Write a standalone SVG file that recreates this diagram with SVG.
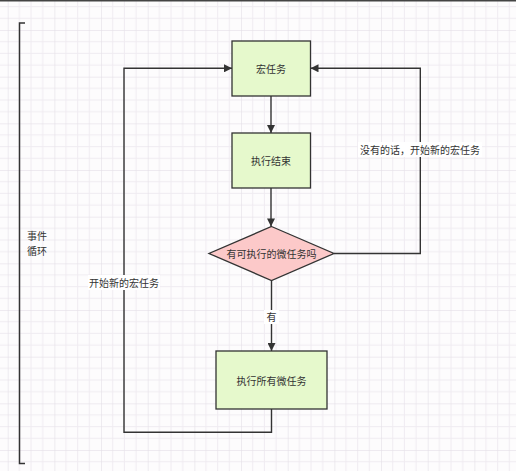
<svg xmlns="http://www.w3.org/2000/svg" width="516" height="471" viewBox="0 0 516 471">
<style>
.node{stroke:#333;stroke-width:1.3}
.box{fill:#e6f9cc}
.dia{fill:#fcc9c9}
.t{font-family:"Noto Sans CJK SC","Noto Sans",sans-serif;font-size:10px;fill:#333;text-anchor:middle;dominant-baseline:central}
.edge{fill:none;stroke:#333;stroke-width:1.4}
</style>
<defs>
<pattern id="grid" patternUnits="userSpaceOnUse" x="7.7" y="30" width="46.667" height="46.667">
<path d="M0 0V46.667M11.667 0V46.667M23.333 0V46.667M35 0V46.667M0 0H46.667M0 11.667H46.667M0 23.333H46.667M0 35H46.667" stroke="#efebf1" stroke-width="1" fill="none"/>
<path d="M0 0V46.667M0 0H46.667" stroke="#e3dfe6" stroke-width="1" fill="none"/>
</pattern>
<marker id="arr" viewBox="0 0 10 10" refX="10" refY="5" markerWidth="9" markerHeight="8" markerUnits="userSpaceOnUse" orient="auto">
<path d="M0 0L10 5L0 10z" fill="#333"/>
</marker>
</defs>
<rect width="516" height="471" fill="#fdfcfd"/>
<rect width="516" height="471" fill="url(#grid)"/>
<rect x="0" y="0" width="516" height="1.5" fill="#444"/>
<g id="bracket">
<path d="M25 23H19.5V463.5H25" fill="none" stroke="#333" stroke-width="1.5"/>
<text class="t" x="37" y="235.5">事件</text>
<text class="t" x="37" y="250.5">循环</text>
</g>
<g id="connectors">
<path class="edge" d="M271 96V133" marker-end="url(#arr)"/>
<path class="edge" d="M271 188V226.5" marker-end="url(#arr)"/>
<path class="edge" d="M271.5 280.5V351" marker-end="url(#arr)"/>
<path class="edge" d="M271.5 409V432.3H124V68.3H232" marker-end="url(#arr)"/>
<path class="edge" d="M334 253.5H420.3V68.3H310.5" marker-end="url(#arr)"/>
<rect x="264" y="310" width="15" height="14" fill="#fff"/>
<text class="t" x="271.5" y="316.5">有</text>
<rect x="358" y="142" width="124" height="15" fill="#fff"/>
<text class="t" x="420" y="149.3">没有的话，开始新的宏任务</text>
<rect x="88" y="275" width="72" height="15" fill="#fff"/>
<text class="t" x="124" y="282.3">开始新的宏任务</text>
</g>
<g id="macro">
<rect class="node box" x="232" y="41" width="78.5" height="55"/>
<text class="t" x="271" y="68.5">宏任务</text>
</g>
<g id="done">
<rect class="node box" x="232" y="133" width="78.5" height="55"/>
<text class="t" x="271" y="160.5">执行结束</text>
</g>
<g id="check">
<path class="node dia" d="M271.5 226.5L334 253.5L271.5 280.5L209 253.5Z"/>
<text class="t" x="271.5" y="253.5">有可执行的微任务吗</text>
</g>
<g id="micro">
<rect class="node box" x="216" y="351" width="111" height="58"/>
<text class="t" x="271.5" y="380.5">执行所有微任务</text>
</g>
</svg>
